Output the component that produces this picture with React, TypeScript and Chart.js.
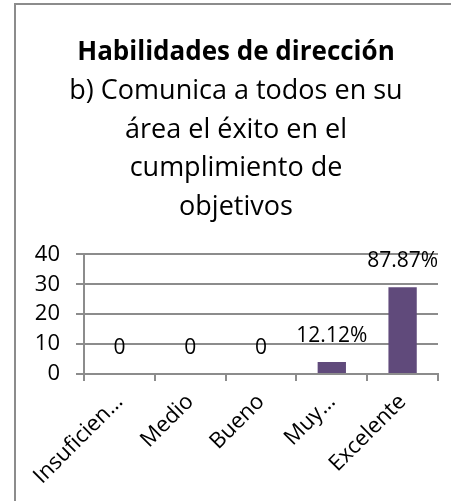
import React, { useEffect, useRef } from "react";
import { Chart, registerables } from "chart.js";

Chart.register(...registerables);

const titleText = "Habilidades de dirección";
const subtitleLines = [
  "b) Comunica a todos en su",
  "área el éxito en el",
  "cumplimiento de",
  "objetivos",
];
const categories = ["Insuficien…", "Medio", "Bueno", "Muy…", "Excelente"];
const values = [0, 0, 0, 4, 29];
const valueLabels = ["0", "0", "0", "12.12%", "87.87%"];
const yTicks = [0, 10, 20, 30, 40];

const FONT = "'Open Sans', 'Liberation Sans', sans-serif";

const dataLabelPlugin = {
  id: "dataLabels",
  afterDatasetsDraw(chart: any) {
    const ctx = chart.ctx;
    const meta = chart.getDatasetMeta(0);
    ctx.save();
    ctx.font = `21px ${FONT}`;
    ctx.fillStyle = "#000";
    ctx.textAlign = "center";
    ctx.textBaseline = "middle";
    meta.data.forEach((bar: any, i: number) => {
      ctx.fillText(valueLabels[i], bar.x, bar.y - 26);
    });
    ctx.restore();
  },
};

export default function App() {
  const ref = useRef<HTMLCanvasElement>(null);
  useEffect(() => {
    if (!ref.current) return;
    const chart = new Chart(ref.current, {
      type: "bar",
      data: {
        labels: categories,
        datasets: [
          {
            data: values,
            backgroundColor: "#604A7B",
            barPercentage: 0.8,
            categoryPercentage: 0.5,
          },
        ],
      },
      options: {
        responsive: false,
        animation: false,
        layout: { padding: { left: 18, right: 13, top: 0, bottom: 0 } },
        plugins: {
          legend: { display: false },
          tooltip: { enabled: false },
          title: {
            display: true,
            text: titleText,
            color: "#000",
            font: { family: FONT, size: 26, weight: "bold", lineHeight: 1.5 },
            padding: { top: 28, bottom: 0 },
          },
          subtitle: {
            display: true,
            text: subtitleLines,
            color: "#000",
            font: { family: FONT, size: 27, weight: "normal", lineHeight: 1.43 },
            padding: { top: 0, bottom: 28 },
          },
        },
        scales: {
          x: {
            grid: {
              offset: true,
              drawOnChartArea: false,
              drawTicks: true,
              tickLength: 7,
              color: "#8c8c8c",
              lineWidth: 2,
            },
            border: { display: true, color: "#8c8c8c", width: 2 },
            ticks: {
              color: "#000",
              font: { family: FONT, size: 22 },
              minRotation: 45,
              maxRotation: 45,
              autoSkip: false,
              padding: 8,
            },
            afterFit: (scale: any) => {
              scale.height = 127;
            },
          },
          y: {
            min: 0,
            max: 40,
            afterBuildTicks: (scale: any) => {
              scale.ticks = yTicks.map((v) => ({ value: v }));
            },
            grid: {
              color: "#8c8c8c",
              lineWidth: 2,
              tickLength: 8,
            },
            border: { display: true, color: "#8c8c8c", width: 2 },
            ticks: {
              color: "#000",
              font: { family: FONT, size: 22 },
              padding: 16,
              autoSkip: false,
            },
            afterFit: (scale: any) => {
              scale.width = 50;
            },
          },
        },
      },
      plugins: [dataLabelPlugin],
    });
    return () => chart.destroy();
  }, []);

  return (
    <div
      style={{
        position: "absolute",
        left: 0,
        top: 0,
        width: 451,
        height: 501,
        overflow: "hidden",
        background: "#fff",
      }}
    >
      <div
        style={{
          position: "absolute",
          left: 14,
          top: 3,
          width: 470,
          height: 540,
          border: "2px solid #8c8c8c",
          boxSizing: "border-box",
        }}
      />
      <div style={{ position: "absolute", left: 16, top: 5, width: 435, height: 496 }}>
        <canvas ref={ref} width={435} height={496} />
      </div>
    </div>
  );
}
